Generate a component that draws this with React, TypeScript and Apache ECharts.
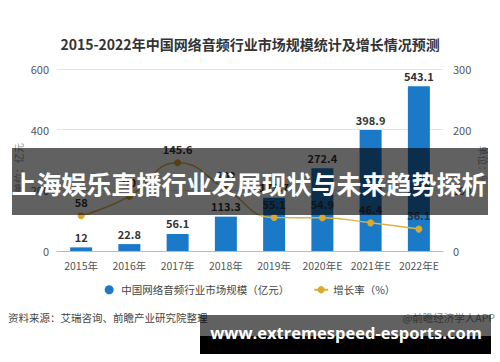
import React, { useEffect, useRef } from "react";
import * as echarts from "echarts";

const categories = ["2015年", "2016年", "2017年", "2018年", "2019年", "2020年E", "2021年E", "2022年E"];
const marketSize = [12, 22.8, 56.1, 113.3, 175.7, 272.4, 398.9, 543.1];
const growthRate = [58, 90, 145.6, 102, 55.1, 54.9, 46.4, 36.1];
const leftTicks = { min: 0, max: 600, interval: 200 };
const rightTicks = { min: 0, max: 300, interval: 100 };

const FONT = '"Noto Sans CJK SC", "Noto Sans", sans-serif';

export default function App() {
  const ref = useRef<HTMLDivElement>(null);
  useEffect(() => {
    const chart = echarts.init(ref.current!, null, { renderer: "svg" });
    chart.setOption({
      animation: false,
      backgroundColor: "#ffffff",
      textStyle: { fontFamily: FONT },
      title: {
        text: "2015-2022年中国网络音频行业市场规模统计及增长情况预测",
        left: "center",
        top: 32,
        textStyle: { fontSize: 14, fontWeight: "bold", color: "#333", fontFamily: FONT },
      },
      grid: { left: 57, right: 57, top: 69, bottom: 111 },
      legend: {
        bottom: 62,
        left: "center",
        itemGap: 24,
        itemWidth: 14,
        itemHeight: 9,
        textStyle: { fontSize: 10.5, color: "#444", fontFamily: FONT },
        data: [
          { name: "中国网络音频行业市场规模（亿元）", icon: "circle" },
          { name: "增长率（%）" },
        ],
      },
      xAxis: {
        type: "category",
        data: categories,
        axisLine: { lineStyle: { color: "#bbb" } },
        axisTick: { show: false },
        axisLabel: { color: "#555", fontSize: 10.5, margin: 9, interval: 0 },
      },
      yAxis: [
        {
          type: "value",
          ...leftTicks,
          axisLine: { show: false },
          axisTick: { show: false },
          axisLabel: { color: "#555", fontSize: 11, margin: 8 },
          splitLine: { lineStyle: { color: "#e3e3e3" } },
        },
        {
          type: "value",
          ...rightTicks,
          axisLine: { show: false },
          axisTick: { show: false },
          axisLabel: { color: "#555", fontSize: 11, margin: 10 },
          splitLine: { show: false },
        },
      ],
      series: [
        {
          name: "中国网络音频行业市场规模（亿元）",
          type: "bar",
          data: marketSize,
          barWidth: 22,
          itemStyle: { color: "#1b7ac7" },
          label: {
            show: true,
            position: "top",
            distance: 5,
            fontSize: 11,
            fontWeight: "bold",
            color: "#333",
          },
        },
        {
          name: "增长率（%）",
          type: "line",
          yAxisIndex: 1,
          data: growthRate,
          smooth: true,
          symbol: "circle",
          symbolSize: 7,
          lineStyle: { color: "#d9b345", width: 1.5 },
          itemStyle: { color: "#d9aa2c" },
          label: {
            show: true,
            position: "top",
            distance: 5,
            fontSize: 11,
            fontWeight: "bold",
            color: "#333",
          },
        },
      ],
      graphic: [
        {
          type: "text",
          x: 18,
          y: 168,
          rotation: Math.PI / 2,
          style: { text: "单位：亿元", fontSize: 10, fill: "#999", fontFamily: FONT, align: "center", verticalAlign: "middle" },
        },
        {
          type: "text",
          x: 483,
          y: 165,
          rotation: -Math.PI / 2,
          style: { text: "单位：%", fontSize: 10, fill: "#999", fontFamily: FONT, align: "center", verticalAlign: "middle" },
        },
        {
          type: "text",
          left: 8,
          top: 312,
          style: { text: "资料来源：艾瑞咨询、前瞻产业研究院整理", fontSize: 10.5, fill: "#444", fontFamily: FONT },
        },
        {
          type: "text",
          right: 5,
          top: 312,
          style: { text: "@前瞻经济学人APP", fontSize: 10.5, fill: "#888", fontFamily: FONT },
        },
        {
          type: "rect",
          z: 100,
          shape: { x: 12, y: 148, width: 476, height: 67 },
          style: { fill: "rgba(0,0,0,0.62)" },
        },
        {
          type: "text",
          z: 101,
          x: 249,
          y: 183,
          style: {
            text: "上海娱乐直播行业发展现状与未来趋势探析",
            fontSize: 25,
            fontWeight: "bold",
            fill: "#ffffff",
            fontFamily: FONT,
            align: "center",
            verticalAlign: "middle",
          },
        },
        {
          type: "rect",
          z: 100,
          shape: { x: 200, y: 315, width: 291, height: 21 },
          style: { fill: "rgba(0,0,0,0.62)" },
        },
        {
          type: "rect",
          z: 100,
          shape: { x: 200, y: 336, width: 291, height: 18 },
          style: { fill: "#000000" },
        },
        {
          type: "text",
          z: 101,
          x: 346,
          y: 332,
          style: {
            text: "www.extremespeed-esports.com",
            fontSize: 16.5,
            fontWeight: "bold",
            fill: "#ffffff",
            fontFamily: '"Open Sans", "DejaVu Sans", sans-serif',
            align: "center",
            verticalAlign: "middle",
          },
        },
      ],
    });
    return () => chart.dispose();
  }, []);
  return <div ref={ref} style={{ width: 500, height: 362, position: "fixed", left: 0, top: 0 }} />;
}
